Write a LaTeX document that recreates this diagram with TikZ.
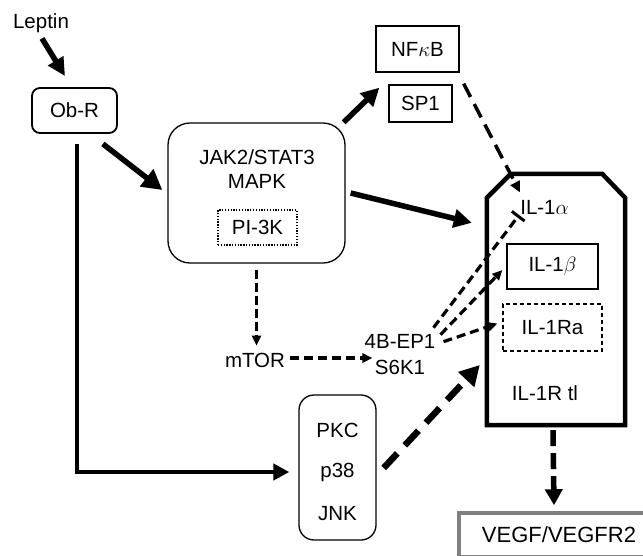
\documentclass[tikz,border=0pt]{standalone}
\usepackage{fontspec}
\setmainfont{Liberation Sans}
\usetikzlibrary{arrows.meta,calc}
\definecolor{boxgray}{RGB}{128,128,128}
\tikzset{
  lbl/.style={font=\fontsize{20.5}{25}\selectfont, inner sep=0pt},
  thinbox/.style={lbl, draw, line width=1.3pt},
  thickarrow/.style={line width=5.5pt, -{Triangle[length=18pt,width=18pt]}},
  dasharrow/.style={line width=3.2pt, dash pattern=on 9pt off 5pt, -{Triangle[length=10pt,width=9pt]}},
  barline/.style={line width=3.2pt, dash pattern=on 9pt off 5pt, -{Bar[width=16pt,line width=3pt]}},
  bigdash/.style={line width=6.5pt, dash pattern=on 20pt off 11pt, -{Triangle[length=20pt,width=21pt]}},
}
\begin{document}
\begin{tikzpicture}[x=1pt,y=-1pt]
\useasboundingbox (0,0) rectangle (643,555);
% nodes
\node[lbl, anchor=base] (leptin) at (41,28) {Leptin};
\node[thinbox, line width=1.8pt, rounded corners=8pt, minimum width=85, minimum height=45] (obr) at (74.5,110.5) {Ob-R};
\node[thinbox, rounded corners=22pt, minimum width=177, minimum height=140] (jak) at (256.5,193) {};
\node[lbl, anchor=base] (jak1) at (257,164) {JAK2/STAT3};
\node[lbl, anchor=base] (jak2) at (257,188) {MAPK};
\node[thinbox, dash pattern=on 1.3pt off 1.5pt, minimum width=79, minimum height=35] (pi3k) at (257.5,227.5) {PI-3K};
\node[thinbox, minimum width=83, minimum height=46] (nfkb) at (417.5,49) {NF$\kappa$B};
\node[thinbox, minimum width=63, minimum height=37] (sp1) at (420.5,103.5) {SP1};
\node[lbl] (mtor) at (255,360) {mTOR};
\node[lbl, align=center, font=\fontsize{20.5}{26}\selectfont] (eb) at (400,355) {4B-EP1\\S6K1};
\node[thinbox, rounded corners=15pt, minimum width=77, minimum height=145] (pkc) at (337.5,467.5) {};
\node[lbl, anchor=base] (pkc1) at (337.5,437) {PKC};
\node[lbl, anchor=base] (pkc2) at (337.5,477) {p38};
\node[lbl, anchor=base] (pkc3) at (337.5,520) {JNK};
\node[minimum width=138, minimum height=251, inner sep=0pt] (il1) at (556,299.5) {};
\draw[line width=4.5pt, line join=miter]
  ($(il1.north west)+(0,24)$) -- ($(il1.north west)+(24,0)$) -- ($(il1.north east)+(-23,0)$)
  -- ($(il1.north east)+(0,24)$) -- (il1.south east) -- (il1.south west) -- cycle;
\node[lbl] (il1a) at (544.5,207.5) {IL-1$\alpha$};
\node[thinbox, minimum width=91, minimum height=45] (il1b) at (552.5,266.5) {IL-1$\beta$};
\node[thinbox, line width=1.2pt, dash pattern=on 4pt off 3pt, minimum width=99, minimum height=47] (il1ra) at (552.5,327.5) {IL-1Ra};
\node[lbl] (il1r) at (545,393) {IL-1R tl};
\node[lbl, font=\fontsize{22}{26}\selectfont, draw=boxgray, line width=3.5pt, minimum width=200, minimum height=44] (vegf) at (559,535) {VEGF/VEGFR2};
% connectors
\draw[thickarrow, -{Triangle[length=18pt,width=17pt]}] ($(leptin.south)+(1,6)$) -- ($(obr.north)+(-9.5,-11)$);
\draw[thickarrow, -{Triangle[length=20pt,width=21pt]}] ($(obr.south east)+(-15,10)$) -- ($(jak.west)+(-5,-3)$);
\draw[thickarrow, line width=4.5pt, -{Triangle[length=16pt,width=16pt]}] ($(obr.south)+(2.5,10)$) |- ($(pkc.west)+(-9,4.5)$);
\draw[thickarrow] ($(jak.north east)+(-2,0)$) -- ($(nfkb.south west)+(4,15)$);
\draw[thickarrow] ($(jak.east)+(5,0)$) -- ($(il1.north west)+(-15,49)$);
\draw[dasharrow, line width=3.5pt, dash pattern=on 15pt off 8pt, -{Triangle[length=11pt,width=10pt]}] ($(nfkb.south east)+(4,11)$) -- ($(il1a.west)+(0,-15)$);
\draw[barline] ($(eb.north east)+(-2,-7)$) -- ($(il1a.west)+(-1,7.5)$);
\draw[dasharrow] ($(eb.north east)+(5,0)$) -- ($(il1b.west)+(-4,3.5)$);
\draw[dasharrow] ($(eb.north east)+(8,7)$) -- ($(il1ra.west)+(-5,-4)$);
\draw[dasharrow] ($(mtor.east)+(5,-2)$) -- ($(eb.west)+(8,3)$);
\draw[dasharrow, dash pattern=on 9pt off 4pt] ($(jak.south)+(0,6)$) -- ($(mtor.north)+(1.5,-7)$);
\draw[bigdash] ($(pkc.east)+(7,0.5)$) -- ($(il1.west)+(-7,65.5)$);
\draw[bigdash, line width=5.5pt, dash pattern=on 16pt off 7pt, -{Triangle[length=16pt,width=17pt]}] ($(il1.south)+(-3,5)$) -- ($(vegf.north)+(-5,-6)$);
\end{tikzpicture}
\end{document}
